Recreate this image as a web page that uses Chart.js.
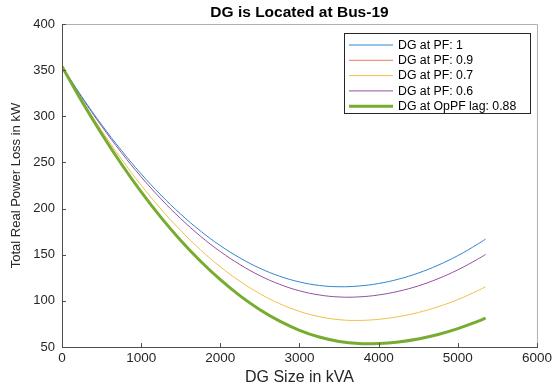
<!DOCTYPE html>
<html>
<head>
<meta charset="utf-8">
<script src="https://cdn.jsdelivr.net/npm/chart.js@4.4.1/dist/chart.umd.min.js"></script>
<style>
  body { margin: 0; background: #fff; }
  #wrap { width: 555px; height: 390px; }
</style>
</head>
<body>
<div id="wrap"><canvas id="lossChart" width="555" height="390"></canvas></div>
<script>
// DG size (kVA) sample points
const dgSize = [0, 250, 500, 750, 1000, 1250, 1500, 1750, 2000, 2250, 2500, 2750,
                3000, 3250, 3500, 3750, 4000, 4250, 4500, 4750, 5000, 5250, 5350];

// total real power loss (kW)
const lossPf1   = [354, 321.3, 291.0, 263.1, 237.6, 214.6, 193.9, 175.7, 159.8, 146.4, 135.3, 126.7,
                   120.5, 116.7, 115.3, 116.1, 118.8, 123.5, 130.1, 138.6, 149.0, 161.4, 166.9];
const lossPf09  = [354, 316.5, 281.3, 248.6, 218.4, 190.8, 165.7, 143.2, 123.2, 105.7, 90.7, 78.3,
                   68.4, 61.1, 56.3, 54.0, 54.1, 55.8, 59.0, 63.8, 70.2, 78.1, 81.7];
const lossPf07  = [354, 318.0, 284.6, 253.7, 225.3, 199.5, 176.1, 155.2, 136.9, 121.1, 107.7, 96.9,
                   88.6, 82.9, 79.6, 78.8, 80.0, 82.9, 87.4, 93.6, 101.4, 111.0, 115.3];
const lossPf06  = [354, 320.5, 289.4, 260.7, 234.4, 210.5, 189.1, 170.0, 153.4, 139.2, 127.3, 117.9,
                   110.9, 106.4, 104.2, 104.3, 106.4, 110.4, 116.2, 124.0, 133.6, 145.1, 150.2];
const lossOpPf  = [354, 316.2, 281.0, 248.3, 218.1, 190.5, 165.4, 142.9, 122.9, 105.4, 90.4, 78.0,
                   68.1, 60.8, 56.0, 53.7, 53.8, 55.5, 58.7, 63.5, 69.9, 77.8, 81.4];

const seriesNames = ['DG at PF: 1', 'DG at PF: 0.9', 'DG at PF: 0.7', 'DG at PF: 0.6', 'DG at OpPF lag: 0.88'];
const xTicks = [0, 1000, 2000, 3000, 4000, 5000, 6000];
const yTicks = [50, 100, 150, 200, 250, 300, 350, 400];

const FONT = 'Arial, "Liberation Sans", sans-serif';
const AXIS = '#262626';

function toPoints(vals) {
    return vals.map((v, i) => ({ x: dgSize[i], y: v }));
}

function makeSet(label, vals, color, width, order) {
    return {
        label: label,
        data: toPoints(vals),
        borderColor: color,
        backgroundColor: color,
        borderWidth: width,
        pointRadius: 0,
        tension: 0.4,
        fill: false,
        order: order
    };
}

// axes box, inward ticks and the legend box, matlab style
const matlabFrame = {
    id: 'matlabFrame',
    afterDraw(chart) {
        const ctx = chart.ctx;
        const a = chart.chartArea;
        const xs = chart.scales.x, ys = chart.scales.y;
        ctx.save();
        ctx.lineWidth = 1;

        // top / right box lines
        ctx.strokeStyle = '#b0b0b0';
        ctx.beginPath();
        ctx.moveTo(a.left, a.top + 0.5);
        ctx.lineTo(a.right + 0.5, a.top + 0.5);
        ctx.lineTo(a.right + 0.5, a.bottom);
        ctx.stroke();

        // left / bottom axes
        ctx.strokeStyle = '#4d4d4d';
        ctx.beginPath();
        ctx.moveTo(a.left + 0.5, a.top);
        ctx.lineTo(a.left + 0.5, a.bottom + 0.5);
        ctx.lineTo(a.right + 1, a.bottom + 0.5);
        ctx.stroke();

        // ticks pointing in
        ctx.beginPath();
        xTicks.forEach(t => {
            const px = Math.round(xs.getPixelForValue(t)) + 0.5;
            ctx.moveTo(px, a.bottom);
            ctx.lineTo(px, a.bottom - 4);
        });
        yTicks.forEach(t => {
            const py = Math.round(ys.getPixelForValue(t)) + 0.5;
            ctx.moveTo(a.left, py);
            ctx.lineTo(a.left + 4, py);
        });
        ctx.stroke();

        // legend
        const lx = 344, ly = 33, lw = 186, lh = 80;
        ctx.fillStyle = '#fff';
        ctx.fillRect(lx, ly, lw, lh);
        ctx.strokeStyle = '#262626';
        ctx.strokeRect(lx + 0.5, ly + 0.5, lw, lh);
        ctx.font = '12.3px ' + FONT;
        ctx.textBaseline = 'middle';
        ctx.textAlign = 'left';
        chart.data.datasets.forEach((ds, i) => {
            const rowY = ly + 12 + i * 15.3;
            ctx.strokeStyle = ds.borderColor;
            ctx.lineWidth = ds.borderWidth;
            ctx.beginPath();
            ctx.moveTo(lx + 5, rowY);
            ctx.lineTo(lx + 49, rowY);
            ctx.stroke();
            ctx.fillStyle = '#000';
            ctx.fillText(ds.label, lx + 54, rowY + 0.5);
        });
        ctx.restore();
    }
};

function initChart() {
    const ctx = document.getElementById('lossChart').getContext('2d');

    new Chart(ctx, {
        type: 'line',
        data: {
            datasets: [
                makeSet(seriesNames[0], lossPf1,  '#2f86cc', 1, 1),
                makeSet(seriesNames[1], lossPf09, '#e58060', 1, 1),
                makeSet(seriesNames[2], lossPf07, '#f0bf4c', 1, 1),
                makeSet(seriesNames[3], lossPf06, '#94509f', 1, 1),
                makeSet(seriesNames[4], lossOpPf, '#77AC30', 3, 0)
            ]
        },
        options: {
            responsive: false,
            animation: false,
            layout: { padding: { left: 0, right: 14, top: 0, bottom: 0 } },
            plugins: {
                legend: { display: false },
                tooltip: { enabled: false },
                title: {
                    display: true,
                    fullSize: false,
                    text: 'DG is Located at Bus-19',
                    color: '#000',
                    font: { family: FONT, size: 15.5, weight: 'bold', lineHeight: 1.2 },
                    padding: { top: 3, bottom: 2.4 }
                }
            },
            scales: {
                x: {
                    type: 'linear',
                    min: 0,
                    max: 6000,
                    grid: { display: false, drawTicks: false },
                    border: { display: false },
                    ticks: {
                        stepSize: 1000,
                        color: AXIS,
                        padding: 3,
                        maxRotation: 0,
                        font: { family: FONT, size: 13.5 },
                        callback: (val) => String(val)
                    },
                    title: {
                        display: true,
                        text: 'DG Size in kVA',
                        color: AXIS,
                        font: { family: FONT, size: 16 },
                        padding: { top: 0, bottom: 2.4 }
                    },
                    afterFit: s => { s.height = 43; }
                },
                y: {
                    min: 50,
                    max: 400,
                    grid: { display: false, drawTicks: false },
                    border: { display: false },
                    ticks: {
                        stepSize: 50,
                        color: AXIS,
                        padding: 7,
                        font: { family: FONT, size: 13 }
                    },
                    title: {
                        display: true,
                        text: 'Total Real Power Loss in kW',
                        color: AXIS,
                        font: { family: FONT, size: 13 },
                        padding: { top: 9, bottom: 0 }
                    },
                    afterFit: s => { s.width = 62; }
                }
            }
        },
        plugins: [matlabFrame]
    });
}

document.addEventListener('DOMContentLoaded', initChart);
</script>
</body>
</html>
